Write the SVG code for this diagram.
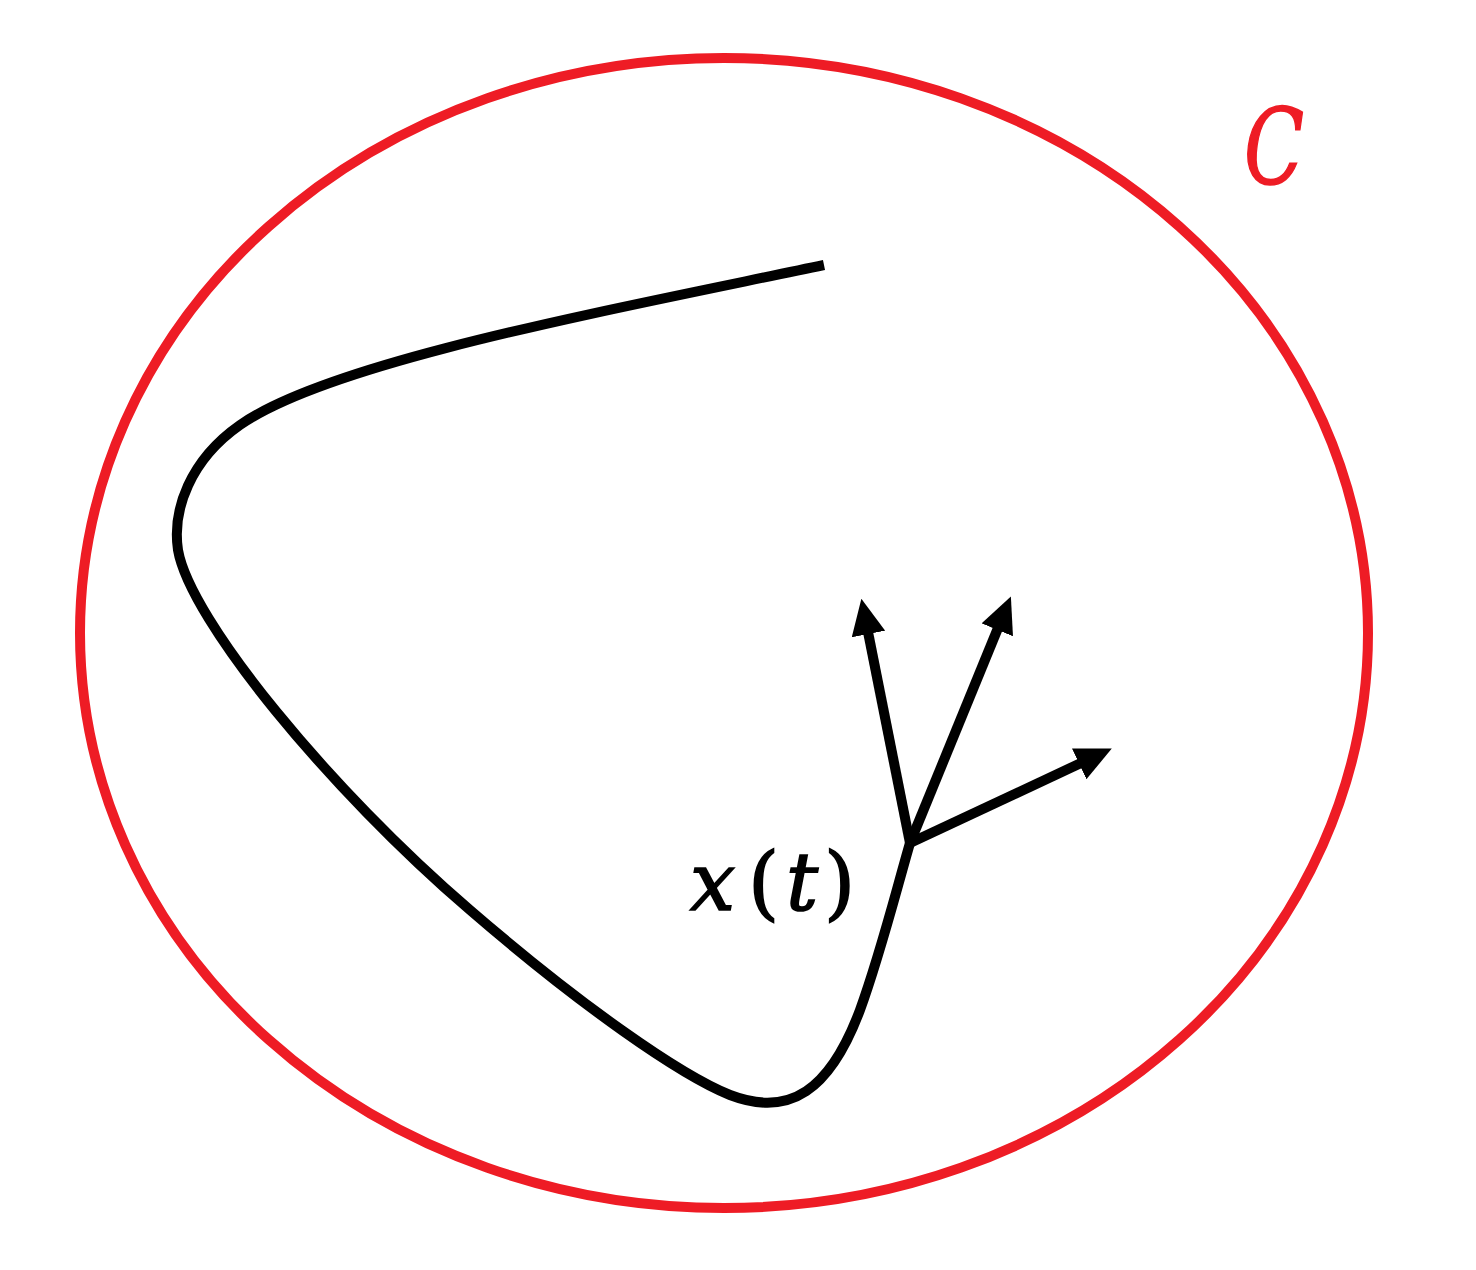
<svg xmlns="http://www.w3.org/2000/svg" width="1476" height="1270" viewBox="0 0 1476 1270">
<style>
.curve{fill:none;stroke:#000;stroke-width:10;stroke-linecap:butt}
.arrow{fill:none;stroke:#000;stroke-width:10}
.lbl{font-family:"DejaVu Serif","Liberation Serif",serif;stroke-width:1.6}
.it{font-style:italic}
</style>
<defs>
<marker id="ah" viewBox="0 0 36 34" refX="2" refY="17" markerWidth="36" markerHeight="34" markerUnits="userSpaceOnUse" orient="auto">
<path d="M0,0 L36,17 L0,34 Z" fill="#000"/>
</marker>
</defs>
<rect width="1476" height="1270" fill="#fff"/>
<g id="boundary">
<ellipse cx="724" cy="633" rx="644" ry="575" fill="none" stroke="#ee1c25" stroke-width="10"/>
<text class="lbl it" x="1244" y="184" font-size="104" fill="#ee1c25" stroke="#ee1c25" textLength="60" lengthAdjust="spacingAndGlyphs">C</text>
</g>
<g id="trajectory">
<path class="curve" d="M824,265 C600,312 330,362 240,425 C190,460 172,510 178,550 C190,620 330,790 470,910 C580,1005 680,1075 730,1095 C790,1118 830,1090 860,1010 C880,955 895,895 910,843"/>
<text class="lbl" font-size="80" fill="#000" stroke="#000" y="910"><tspan class="it" x="690">x</tspan><tspan x="748">(</tspan><tspan class="it" x="786">t</tspan><tspan x="824">)</tspan></text>
</g>
<g id="connectors">
<line class="arrow" x1="910" y1="843" x2="868" y2="632" marker-end="url(#ah)"/>
<line class="arrow" x1="910" y1="843" x2="998" y2="628" marker-end="url(#ah)"/>
<line class="arrow" x1="910" y1="843" x2="1081" y2="763" marker-end="url(#ah)"/>
</g>
</svg>
